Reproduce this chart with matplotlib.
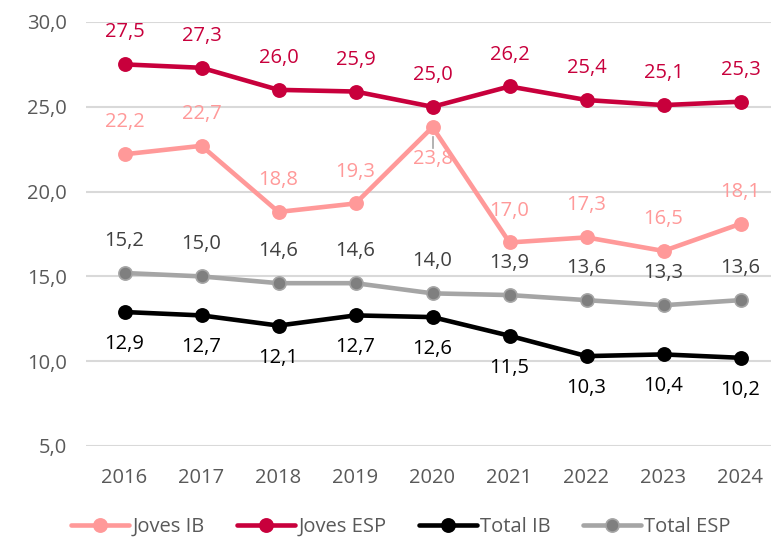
import matplotlib.pyplot as plt

plt.rcParams['font.family'] = ['Open Sans', 'DejaVu Sans']

years = ['2016', '2017', '2018', '2019', '2020', '2021', '2022', '2023', '2024']
joves_ib = [22.2, 22.7, 18.8, 19.3, 23.8, 17.0, 17.3, 16.5, 18.1]
joves_esp = [27.5, 27.3, 26.0, 25.9, 25.0, 26.2, 25.4, 25.1, 25.3]
total_ib = [12.9, 12.7, 12.1, 12.7, 12.6, 11.5, 10.3, 10.4, 10.2]
total_esp = [15.2, 15.0, 14.6, 14.6, 14.0, 13.9, 13.6, 13.3, 13.6]

fig = plt.figure(figsize=(7.71, 5.41), dpi=100)
ax = fig.add_axes([86 / 771, 1 - 446 / 541, 693 / 771, 424 / 541])

x = range(len(years))
series = [
    ('Joves IB', joves_ib, '#FF9999', '#FF9999', '#FF9999', 1),
    ('Joves ESP', joves_esp, '#C8003C', '#C8003C', '#C8003C', 1),
    ('Total IB', total_ib, '#000000', '#000000', '#000000', -1),
    ('Total ESP', total_esp, '#A5A5A5', '#7F7F7F', '#404040', 1),
]

for name, vals, lc, mc, tc, side in series:
    ax.plot(x, vals, color=lc, lw=3.3, marker='o', ms=9.5,
            mfc=mc, mec=lc, mew=1.2, label=name, solid_capstyle='round')
    for i, v in enumerate(vals):
        s = side
        if name == 'Joves IB' and i == 4:
            s = -1
        txt = f'{v:.1f}'.replace('.', ',')
        ax.annotate(txt, (i, v), xytext=(0, 23 * s), textcoords='offset points',
                    ha='center', va='center', fontsize=14.5, color=tc)

# leader line for the 2020 label
ax.plot([4, 4], [23.2, 22.6], color='#A5A5A5', lw=1.2)

ax.set_xlim(-0.5, 8.5)
ax.set_ylim(5, 30)
ax.set_yticks([5, 10, 15, 20, 25, 30])
ax.set_yticklabels([f'{t:.1f}'.replace('.', ',') for t in [5, 10, 15, 20, 25, 30]])
ax.set_xticks(list(x))
ax.set_xticklabels(years)
ax.tick_params(length=0, labelsize=14.5, colors='#595959')
ax.tick_params(axis='x', pad=16)
ax.tick_params(axis='y', pad=14)
ax.grid(axis='y', color='#D9D9D9', lw=1.5)
ax.set_axisbelow(True)
for sp in ax.spines.values():
    sp.set_visible(False)

fig.legend(loc='center', bbox_to_anchor=(0.52, 1 - 527 / 541), ncol=4, frameon=False,
           fontsize=14.5, handlelength=2.9, handletextpad=0.15, columnspacing=1.6,
           labelcolor='#595959')

fig.savefig('out.png', dpi=100)
